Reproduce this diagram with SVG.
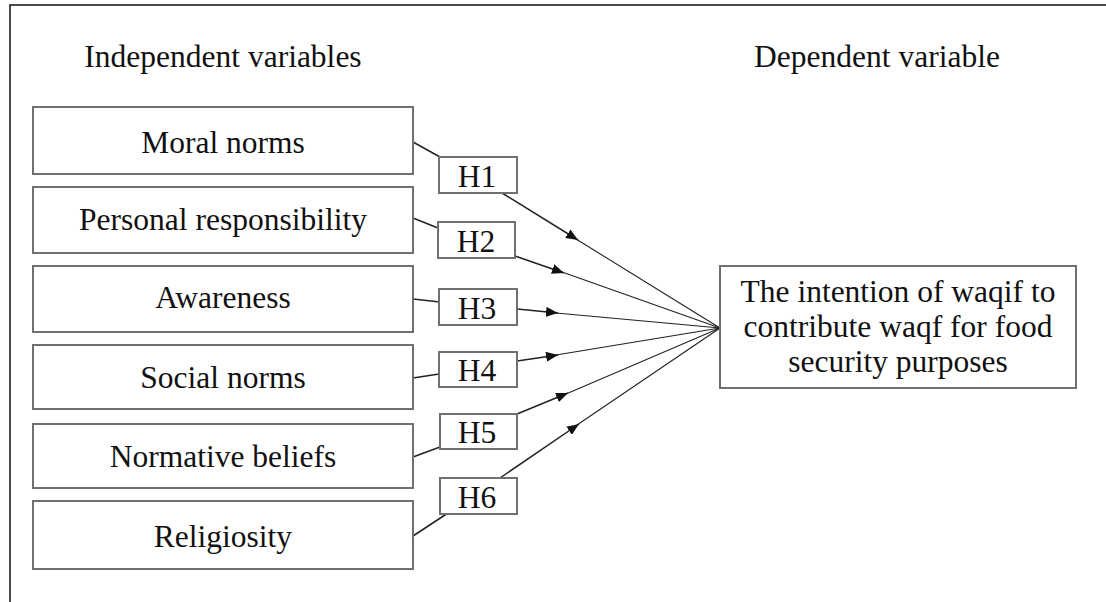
<svg xmlns="http://www.w3.org/2000/svg" width="1106" height="602" viewBox="0 0 1106 602">
<defs>
<style>
.box{fill:#fff;stroke:#707070;stroke-width:2}
.t{font-family:"Liberation Serif","Times New Roman",serif;font-size:31.5px;fill:#111;text-anchor:middle}
.ln{stroke:#222;stroke-width:1.5;fill:none}
.ln2{stroke:#222;stroke-width:1.1;fill:none}
.frame{stroke:#111;stroke-width:1.5;fill:none}
</style>
<marker id="arr" markerUnits="userSpaceOnUse" markerWidth="14" markerHeight="10" refX="12" refY="5" orient="auto">
<path d="M0,0 L12,5 L0,10 Z" fill="#111"/>
</marker>
</defs>
<rect width="1106" height="602" fill="#fff"/>
<path class="frame" d="M10,602 V5 H1106"/>
<text class="t" x="223" y="67">Independent variables</text>
<text class="t" x="877" y="67">Dependent variable</text>
<g id="connectors">
<path class="ln" d="M413,142 L440,157"/>
<path class="ln" d="M413,218 L438,228"/>
<path class="ln" d="M413,299 L440,302"/>
<path class="ln" d="M413,378 L439,374"/>
<path class="ln" d="M413,457 L440,447"/>
<path class="ln" d="M413,536 L448,513"/>
<path class="ln" d="M502,193 L578,240" marker-end="url(#arr)"/>
<path class="ln2" d="M576,239 L720,328"/>
<path class="ln" d="M515,256 L564,273" marker-end="url(#arr)"/>
<path class="ln2" d="M562,272 L720,328"/>
<path class="ln" d="M517,309 L558,313" marker-end="url(#arr)"/>
<path class="ln2" d="M556,313 L720,328"/>
<path class="ln" d="M517,361 L558,355" marker-end="url(#arr)"/>
<path class="ln2" d="M556,355 L720,328"/>
<path class="ln" d="M517,414 L568,393" marker-end="url(#arr)"/>
<path class="ln2" d="M566,394 L720,328"/>
<path class="ln" d="M500,478 L579,424" marker-end="url(#arr)"/>
<path class="ln2" d="M577,425 L720,328"/>
</g>
<g id="n1"><rect class="box" x="33" y="107" width="380" height="67"/><text class="t" x="223" y="153">Moral norms</text></g>
<g id="n2"><rect class="box" x="33" y="187" width="380" height="66"/><text class="t" x="223" y="230">Personal responsibility</text></g>
<g id="n3"><rect class="box" x="33" y="266" width="380" height="66"/><text class="t" x="223" y="308">Awareness</text></g>
<g id="n4"><rect class="box" x="33" y="345" width="380" height="64"/><text class="t" x="223" y="388">Social norms</text></g>
<g id="n5"><rect class="box" x="33" y="424" width="380" height="64"/><text class="t" x="223" y="467">Normative beliefs</text></g>
<g id="n6"><rect class="box" x="33" y="501" width="380" height="68"/><text class="t" x="223" y="547">Religiosity</text></g>
<g id="h1"><rect class="box" x="439" y="157" width="78" height="36"/><text class="t" x="477" y="187">H1</text></g>
<g id="h2"><rect class="box" x="438" y="222" width="77" height="36"/><text class="t" x="476" y="252">H2</text></g>
<g id="h3"><rect class="box" x="439" y="289" width="78" height="36"/><text class="t" x="477" y="319">H3</text></g>
<g id="h4"><rect class="box" x="439" y="352" width="78" height="35"/><text class="t" x="477" y="381">H4</text></g>
<g id="h5"><rect class="box" x="440" y="414" width="77" height="35"/><text class="t" x="477" y="443">H5</text></g>
<g id="h6"><rect class="box" x="440" y="478" width="77" height="36"/><text class="t" x="477" y="508">H6</text></g>
<g id="target"><rect class="box" x="720" y="266" width="356" height="122"/>
<text class="t" x="898" y="302">The intention of waqif to</text>
<text class="t" x="898" y="337">contribute waqf for food</text>
<text class="t" x="898" y="372">security purposes</text></g>
</svg>
